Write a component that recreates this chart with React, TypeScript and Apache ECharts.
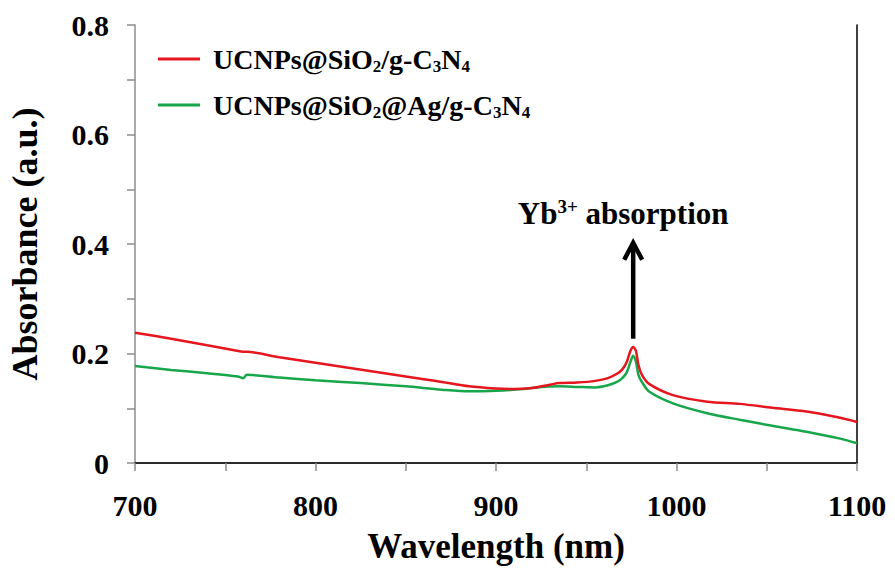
import React, { useEffect, useRef } from "react";
import * as echarts from "echarts";

// Wavelength (nm) and absorbance readings for each sample
const redWavelengths = [700, 720, 740, 755, 760, 762, 780, 800, 820, 840, 860, 870, 885, 900, 910, 920, 930, 935, 945, 955, 962, 967, 970, 972.5, 974.5, 976, 977.5, 979, 981, 985, 998, 1017, 1035, 1053, 1072, 1090, 1100];
const redAbsorbance = [0.238, 0.227, 0.215, 0.206, 0.203, 0.203, 0.193, 0.183, 0.173, 0.163, 0.153, 0.148, 0.140, 0.136, 0.135, 0.137, 0.143, 0.146, 0.147, 0.150, 0.155, 0.163, 0.171, 0.185, 0.205, 0.212, 0.205, 0.178, 0.160, 0.144, 0.124, 0.112, 0.108, 0.101, 0.094, 0.083, 0.075];

const greenWavelengths = [700, 720, 740, 757, 760, 762, 780, 800, 825, 850, 870, 885, 900, 915, 925, 935, 945, 955, 962, 967, 970, 972.5, 974.5, 976, 977.5, 979, 981, 985, 998, 1017, 1035, 1053, 1072, 1090, 1100];
const greenAbsorbance = [0.177, 0.170, 0.164, 0.158, 0.155, 0.161, 0.156, 0.151, 0.146, 0.140, 0.134, 0.131, 0.132, 0.135, 0.139, 0.140, 0.139, 0.138, 0.142, 0.148, 0.155, 0.166, 0.185, 0.196, 0.185, 0.160, 0.147, 0.130, 0.109, 0.091, 0.079, 0.068, 0.057, 0.045, 0.036];

const seriesNames = ["UCNPs@SiO2/g-C3N4", "UCNPs@SiO2@Ag/g-C3N4"];
const legendRich = [
  "{m|UCNPs@SiO}{s|2}{m|/g-C}{s|3}{m|N}{s|4}",
  "{m|UCNPs@SiO}{s|2}{m|@Ag/g-C}{s|3}{m|N}{s|4}",
];

const xTicks = { min: 700, max: 1100, step: 50 };
const yTicks = { min: 0, max: 0.8, step: 0.1 };

// Peak marked by the arrow annotation
const peakWavelength = 976;

const FONT = "'Liberation Serif', 'Times New Roman', serif";
const RED = "#e5161d";
const GREEN = "#18a64b";

function pairs(xs: number[], ys: number[]) {
  return xs.map((x, i) => [x, ys[i]]);
}

export default function App() {
  const ref = useRef<HTMLDivElement>(null);

  useEffect(() => {
    document.body.style.margin = "0";
    const chart = echarts.init(ref.current!, null, { renderer: "svg" });

    const option: any = {
      animation: false,
      backgroundColor: "#ffffff",
      grid: { left: 135, top: 25, right: 38, bottom: 107, outerBoundsMode: "none", containLabel: false },
      legend: {
        orient: "vertical",
        left: 158,
        top: 45,
        padding: 0,
        itemGap: 16,
        itemWidth: 42,
        itemHeight: 3,
        icon: "rect",
        data: seriesNames,
        formatter: (name: string) => legendRich[seriesNames.indexOf(name)],
        textStyle: {
          padding: [0, 0, 0, 8],
          rich: {
            m: { fontFamily: FONT, fontWeight: "bold", fontSize: 28, color: "#000", lineHeight: 32 },
            s: { fontFamily: FONT, fontWeight: "bold", fontSize: 17, color: "#000", lineHeight: 11, verticalAlign: "bottom" },
          },
        },
      },
      xAxis: [
        {
          type: "value",
          min: xTicks.min,
          max: xTicks.max,
          interval: xTicks.step,
          name: "Wavelength (nm)",
          nameLocation: "middle",
          nameGap: 66,
          nameTextStyle: { fontFamily: FONT, fontWeight: "bold", fontSize: 35, color: "#000" },
          axisLine: { show: true, lineStyle: { color: "#8c8c8c", width: 1.5 } },
          axisTick: { show: true, length: 8, lineStyle: { color: "#8c8c8c", width: 1.5 } },
          splitLine: { show: false },
          axisLabel: {
            margin: 27,
            fontFamily: FONT,
            fontWeight: "bold",
            fontSize: 30,
            color: "#000",
            formatter: (v: number) => (v % 100 === 0 ? String(v) : ""),
          },
        },
        {
          type: "value",
          position: "top",
          min: xTicks.min,
          max: xTicks.max,
          axisLine: { show: true, lineStyle: { color: "#000", width: 1.5 } },
          axisTick: { show: false },
          axisLabel: { show: false },
          splitLine: { show: false },
        },
      ],
      yAxis: [
        {
          type: "value",
          min: yTicks.min,
          max: yTicks.max,
          interval: yTicks.step,
          name: "Absorbance (a.u.)",
          nameLocation: "middle",
          nameGap: 92,
          nameTextStyle: { fontFamily: FONT, fontWeight: "bold", fontSize: 36, color: "#000" },
          axisLine: { show: true, lineStyle: { color: "#8c8c8c", width: 1.5 } },
          axisTick: { show: true, length: 8, lineStyle: { color: "#8c8c8c", width: 1.5 } },
          splitLine: { show: false },
          axisLabel: {
            margin: 26,
            fontFamily: FONT,
            fontWeight: "bold",
            fontSize: 30,
            color: "#000",
            formatter: (v: number) => {
              const k = Math.round(v * 10);
              if (k % 2 !== 0) return "";
              return k === 0 ? "0" : (k / 10).toFixed(1);
            },
          },
        },
        {
          type: "value",
          position: "right",
          min: yTicks.min,
          max: yTicks.max,
          axisLine: { show: true, lineStyle: { color: "#000", width: 1.5 } },
          axisTick: { show: false },
          axisLabel: { show: false },
          splitLine: { show: false },
        },
      ],
      series: [
        {
          name: seriesNames[0],
          type: "line",
          data: pairs(redWavelengths, redAbsorbance),
          showSymbol: false,
          smooth: 0.3,
          lineStyle: { color: RED, width: 2.5 },
          itemStyle: { color: RED },
          z: 3,
        },
        {
          name: seriesNames[1],
          type: "line",
          data: pairs(greenWavelengths, greenAbsorbance),
          showSymbol: false,
          smooth: 0.3,
          lineStyle: { color: GREEN, width: 2.5 },
          itemStyle: { color: GREEN },
          z: 2,
        },
      ],
    };

    chart.setOption(option);

    // Arrow and label over the Yb3+ absorption peak, placed in data space
    const tip = chart.convertToPixel({ gridIndex: 0 }, [peakWavelength, 0.404]) as number[];
    const tail = chart.convertToPixel({ gridIndex: 0 }, [peakWavelength, 0.227]) as number[];
    const ax = tip[0];
    chart.setOption({
      graphic: [
        {
          type: "line",
          shape: { x1: ax, y1: tail[1], x2: ax, y2: tip[1] + 3 },
          style: { stroke: "#000", lineWidth: 4.5 },
        },
        {
          type: "polyline",
          shape: { points: [[ax - 9, tip[1] + 18], [ax, tip[1] + 1], [ax + 9, tip[1] + 18]] },
          style: { stroke: "#000", lineWidth: 4.5, fill: "none", lineJoin: "miter" },
        },
        {
          type: "text",
          x: ax - 10,
          y: tip[1] - 28,
          style: {
            text: "{m|Yb}{p|3+}{m| absorption}",
            align: "center",
            verticalAlign: "middle",
            rich: {
              m: { fontFamily: FONT, fontWeight: "bold", fontSize: 31, fill: "#000", lineHeight: 34 },
              p: { fontFamily: FONT, fontWeight: "bold", fontSize: 19, fill: "#000", lineHeight: 19, verticalAlign: "top" },
            },
          },
        },
      ],
    });

    return () => chart.dispose();
  }, []);

  return <div ref={ref} style={{ width: 895, height: 570 }} />;
}
